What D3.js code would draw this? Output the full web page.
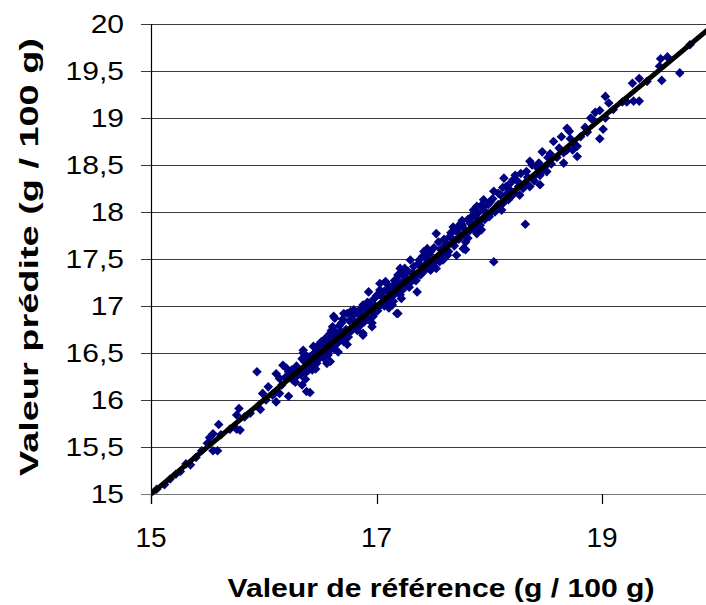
<!DOCTYPE html>
<html>
<head>
<meta charset="utf-8">
<script src="https://cdn.jsdelivr.net/npm/d3@7/dist/d3.min.js"></script>
<style>
  html, body { margin: 0; padding: 0; background: #fff; }
  svg { display: block; font-family: "Liberation Sans", Arial, sans-serif; }
</style>
</head>
<body>
<svg id="chart" width="706" height="605"></svg>
<script>
// Reference values (g / 100 g)
const reference = [
  15.05, 15.12, 15.17, 15.22, 15.26, 15.31, 15.35, 15.40, 15.45, 15.50,
  15.52, 15.55, 15.55, 15.59, 15.60, 15.62, 15.70, 15.76, 15.76, 15.78,
  15.79, 15.83, 15.88, 15.94, 15.97, 15.99, 16.02, 16.04, 16.08, 16.11,
  16.11, 16.14, 16.14, 16.16, 16.17, 16.19, 16.20, 16.22, 16.23, 16.25,
  16.27, 16.28, 16.30, 16.31, 16.34, 16.34, 16.35, 16.35, 16.38, 16.38,
  16.40, 16.41, 16.41, 16.43, 16.44, 16.45, 16.47, 16.47, 16.50, 16.50,
  16.52, 16.56, 16.56, 16.56, 16.57, 16.59, 16.59, 16.60, 16.60, 16.62,
  16.62, 16.63, 16.63, 16.66, 16.68, 16.69, 16.70, 16.71, 16.71, 16.72,
  16.74, 16.74, 16.75, 16.77, 16.78, 16.80, 16.81, 16.82, 16.84, 16.85,
  16.88, 16.88, 16.88, 16.90, 16.91, 16.93, 16.94, 16.96, 16.96, 16.97,
  16.99, 17.02, 17.03, 17.03, 17.03, 17.05, 17.06, 17.08, 17.09, 17.09,
  17.11, 17.12, 17.14, 17.14, 17.15, 17.15, 17.18, 17.18, 17.19, 17.19,
  17.21, 17.21, 17.22, 17.24, 17.25, 17.27, 17.30, 17.31, 17.32, 17.34,
  17.36, 17.37, 17.39, 17.40, 17.42, 17.43, 17.43, 17.45, 17.46, 17.48,
  17.48, 17.50, 17.50, 17.53, 17.53, 17.55, 17.57, 17.59, 17.61, 17.62,
  17.64, 17.65, 17.67, 17.68, 17.70, 17.71, 17.71, 17.72, 17.74, 17.76,
  17.76, 17.77, 17.77, 17.79, 17.79, 17.80, 17.82, 17.83, 17.83, 17.86,
  17.87, 17.89, 17.89, 17.89, 17.91, 17.93, 17.93, 17.95, 17.95, 17.97,
  18.01, 18.02, 18.04, 18.04, 18.06, 18.10, 18.11, 18.13, 18.14, 18.16,
  18.19, 18.20, 18.23, 18.26, 18.27, 18.29, 18.32, 18.32, 18.33, 18.36,
  18.36, 18.39, 18.42, 18.45, 18.45, 18.47, 18.50, 18.51, 18.54, 18.57,
  18.60, 18.64, 18.66, 18.69, 18.69, 18.71, 18.74, 18.75, 18.78, 18.78,
  18.85, 18.87, 18.90, 18.92, 18.94, 18.98, 18.98, 19.01, 19.03, 19.03,
  19.06, 19.10, 19.18, 19.22, 19.27, 19.28, 19.33, 19.33, 19.40, 19.51,
  19.52, 19.53, 19.58, 19.69, 19.78,
  16.22, 16.26, 16.29, 16.33, 16.36, 16.37, 16.39, 16.42, 16.44, 16.46,
  16.48, 16.49, 16.51, 16.53, 16.54, 16.55, 16.58, 16.58, 16.61, 16.61,
  16.64, 16.65, 16.67, 16.67, 16.69, 16.70, 16.73, 16.73, 16.76, 16.76,
  16.79, 16.79, 16.81, 16.83, 16.83, 16.86, 16.86, 16.87, 16.89, 16.92,
  16.92, 16.95, 16.98, 16.98, 17.00, 17.01, 17.04, 17.07, 17.07, 17.10,
  17.10, 17.13, 17.16, 17.17, 17.20, 17.23, 17.23, 17.26, 17.28, 17.29,
  17.33, 17.35, 17.38, 17.38, 17.41, 17.41, 17.44, 17.47, 17.47, 17.51,
  17.52, 17.55, 17.56, 17.58, 17.60, 17.63, 17.63, 17.66, 17.69, 17.70,
  17.73, 17.75, 17.78, 17.81, 17.81, 17.84, 17.85, 17.88, 17.90, 17.92,
  17.94, 17.96, 17.99, 18.00, 18.03, 18.05, 18.08, 18.08, 18.12, 18.12,
  18.15, 18.17, 18.18, 18.21, 18.22, 18.25, 18.28, 18.30, 18.34, 18.38,
  18.40, 18.44, 18.48, 18.52, 18.55, 18.62, 18.66, 18.72, 18.81
];

// Predicted values (g / 100 g), same order
const predicted = [
  15.05, 15.10, 15.16, 15.21, 15.24, 15.32, 15.31, 15.39, 15.46, 15.54,
  15.60, 15.64, 15.46, 15.46, 15.74, 15.63, 15.69, 15.69, 15.84, 15.91,
  15.68, 15.82, 15.86, 16.30, 15.90, 16.07, 16.00, 16.14, 16.05, 15.98,
  16.28, 16.07, 16.23, 16.16, 16.37, 16.24, 16.34, 16.04, 16.25, 16.32,
  16.30, 16.19, 16.26, 16.32, 16.16, 16.44, 16.50, 16.53, 16.09, 16.30,
  16.32, 16.08, 16.46, 16.32, 16.57, 16.40, 16.53, 16.39, 16.59, 16.46,
  16.50, 16.57, 16.39, 16.62, 16.48, 16.41, 16.71, 16.74, 16.60, 16.55,
  16.89, 16.67, 16.87, 16.51, 16.73, 16.82, 16.68, 16.62, 16.92, 16.64,
  16.92, 16.59, 16.67, 16.94, 16.74, 16.96, 16.94, 16.80, 16.78, 16.85,
  17.01, 16.71, 16.69, 16.88, 16.96, 17.15, 17.03, 16.82, 16.78, 16.89,
  17.00, 16.99, 17.12, 17.17, 17.24, 17.10, 17.04, 17.26, 17.06, 17.24,
  16.98, 17.13, 17.01, 17.21, 17.12, 17.05, 16.92, 17.20, 17.33, 16.92,
  17.40, 17.12, 17.08, 17.25, 17.40, 17.22, 17.49, 17.26, 17.35, 17.31,
  17.15, 17.45, 17.33, 17.42, 17.58, 17.52, 17.38, 17.61, 17.47, 17.58,
  17.38, 17.47, 17.45, 17.40, 17.77, 17.52, 17.60, 17.49, 17.65, 17.58,
  17.58, 17.74, 17.72, 17.84, 17.70, 17.54, 17.81, 17.84, 17.76, 17.86,
  17.91, 17.83, 17.61, 17.68, 17.60, 17.77, 17.80, 17.90, 17.88, 18.02,
  17.81, 17.93, 17.77, 18.06, 17.90, 17.81, 18.07, 18.13, 18.02, 17.96,
  18.11, 18.00, 18.22, 17.47, 18.05, 18.18, 18.02, 18.36, 18.12, 18.20,
  18.31, 18.17, 18.39, 18.27, 18.18, 18.28, 18.31, 17.87, 18.43, 18.54,
  18.27, 18.37, 18.48, 18.39, 18.29, 18.64, 18.49, 18.43, 18.62, 18.75,
  18.58, 18.80, 18.52, 18.66, 18.89, 18.86, 18.66, 18.73, 18.59, 18.70,
  18.90, 18.85, 19.00, 18.98, 19.06, 18.78, 19.08, 18.88, 19.00, 19.23,
  19.16, 19.09, 19.17, 19.17, 19.37, 19.18, 19.42, 19.18, 19.39, 19.55,
  19.63, 19.40, 19.65, 19.48, 19.78,
  16.30, 16.21, 16.36, 16.27, 16.41, 16.22, 16.46, 16.37, 16.49, 16.33,
  16.58, 16.44, 16.62, 16.45, 16.54, 16.66, 16.52, 16.63, 16.78, 16.56,
  16.72, 16.60, 16.79, 16.63, 16.70, 16.86, 16.75, 16.69, 16.84, 16.72,
  16.90, 16.77, 16.83, 16.92, 16.74, 16.97, 16.80, 16.91, 16.83, 17.04,
  16.86, 16.98, 17.08, 16.92, 17.11, 16.95, 17.02, 17.16, 17.00, 17.18,
  17.04, 17.09, 17.27, 17.14, 17.26, 17.17, 17.33, 17.30, 17.37, 17.20,
  17.42, 17.27, 17.49, 17.35, 17.53, 17.36, 17.45, 17.55, 17.43, 17.62,
  17.50, 17.68, 17.47, 17.56, 17.71, 17.66, 17.54, 17.78, 17.64, 17.80,
  17.71, 17.88, 17.75, 17.92, 17.72, 17.82, 17.96, 17.85, 17.99, 17.86,
  18.05, 17.92, 18.08, 17.95, 18.14, 18.00, 18.20, 18.08, 18.26, 18.09,
  18.27, 18.13, 18.24, 18.34, 18.21, 18.33, 18.41, 18.25, 18.37, 18.50,
  18.33, 18.52, 18.45, 18.58, 18.51, 18.68, 18.63, 18.78, 18.80
];

// Axis ticks
const xTicks = [15, 17, 19];
const yTicks = [15, 15.5, 16, 16.5, 17, 17.5, 18, 18.5, 19, 19.5, 20];

// Reference line y = x
const lineRef = [15, 20];

const xTitle = "Valeur de référence (g / 100 g)";
const yTitle = "Valeur prédite (g / 100 g)";

const W = 706, H = 605;
const svg = d3.select("#chart");

const x = d3.scaleLinear().domain([15, 20]).range([151, 714.75]);
const y = d3.scaleLinear().domain([15, 20]).range([494, 24]);

const fmt = v => String(v).replace(".", ",");

// Horizontal gridlines (with left tick stubs)
svg.append("g")
  .selectAll("line")
  .data(yTicks)
  .join("line")
  .attr("x1", 141)
  .attr("x2", W)
  .attr("y1", d => Math.round(y(d)) + 0.5)
  .attr("y2", d => Math.round(y(d)) + 0.5)
  .attr("stroke", d => d === 15 ? "#7a7a7a" : "#3a3a3a")
  .attr("stroke-width", 1.2);

// Y axis line
svg.append("line")
  .attr("x1", 151.5).attr("x2", 151.5)
  .attr("y1", Math.round(y(20))).attr("y2", Math.round(y(15)) + 10)
  .attr("stroke", "#000").attr("stroke-width", 1.2);

// X ticks below the axis
svg.append("g")
  .selectAll("line")
  .data(xTicks)
  .join("line")
  .attr("x1", d => Math.round(x(d)) + 0.5)
  .attr("x2", d => Math.round(x(d)) + 0.5)
  .attr("y1", Math.round(y(15)))
  .attr("y2", Math.round(y(15)) + 10)
  .attr("stroke", "#000").attr("stroke-width", 1.2);

// Y tick labels
svg.append("g")
  .selectAll("text")
  .data(yTicks)
  .join("text")
  .attr("transform", d => `translate(124,${y(d) + 8.5}) scale(1.2,1)`)
  .attr("text-anchor", "end")
  .attr("font-size", 25)
  .attr("fill", "#000")
  .text(fmt);

// X tick labels
svg.append("g")
  .selectAll("text")
  .data(xTicks)
  .join("text")
  .attr("x", d => x(d))
  .attr("y", 547)
  .attr("text-anchor", "middle")
  .attr("font-size", 28)
  .attr("fill", "#000")
  .text(fmt);

// Clip region for data marks
svg.append("clipPath").attr("id", "plot-clip")
  .append("rect")
  .attr("x", 151).attr("y", 20)
  .attr("width", W - 151).attr("height", 480);

const plot = svg.append("g").attr("clip-path", "url(#plot-clip)");

// Scatter points as diamonds
const pts = reference.map((r, i) => [r, predicted[i]]);
const diamond = d3.symbol().type(d3.symbolSquare).size(46);
plot.append("g")
  .selectAll("path")
  .data(pts)
  .join("path")
  .attr("d", diamond)
  .attr("transform", d => `translate(${x(d[0])},${y(d[1])}) rotate(45)`)
  .attr("fill", "#000080");

// 1:1 line
plot.append("path")
  .datum(lineRef)
  .attr("d", d3.line().x(d => x(d)).y(d => y(d)))
  .attr("stroke", "#000")
  .attr("stroke-width", 5)
  .attr("fill", "none");

// Axis titles
svg.append("text")
  .attr("x", 441)
  .attr("y", 597)
  .attr("text-anchor", "middle")
  .attr("font-size", 25)
  .attr("font-weight", "bold")
  .attr("textLength", 427)
  .attr("lengthAdjust", "spacingAndGlyphs")
  .text(xTitle);

svg.append("text")
  .attr("transform", "translate(38,257) rotate(-90)")
  .attr("text-anchor", "middle")
  .attr("font-size", 26)
  .attr("font-weight", "bold")
  .attr("textLength", 438)
  .attr("lengthAdjust", "spacingAndGlyphs")
  .text(yTitle);
</script>
</body>
</html>
